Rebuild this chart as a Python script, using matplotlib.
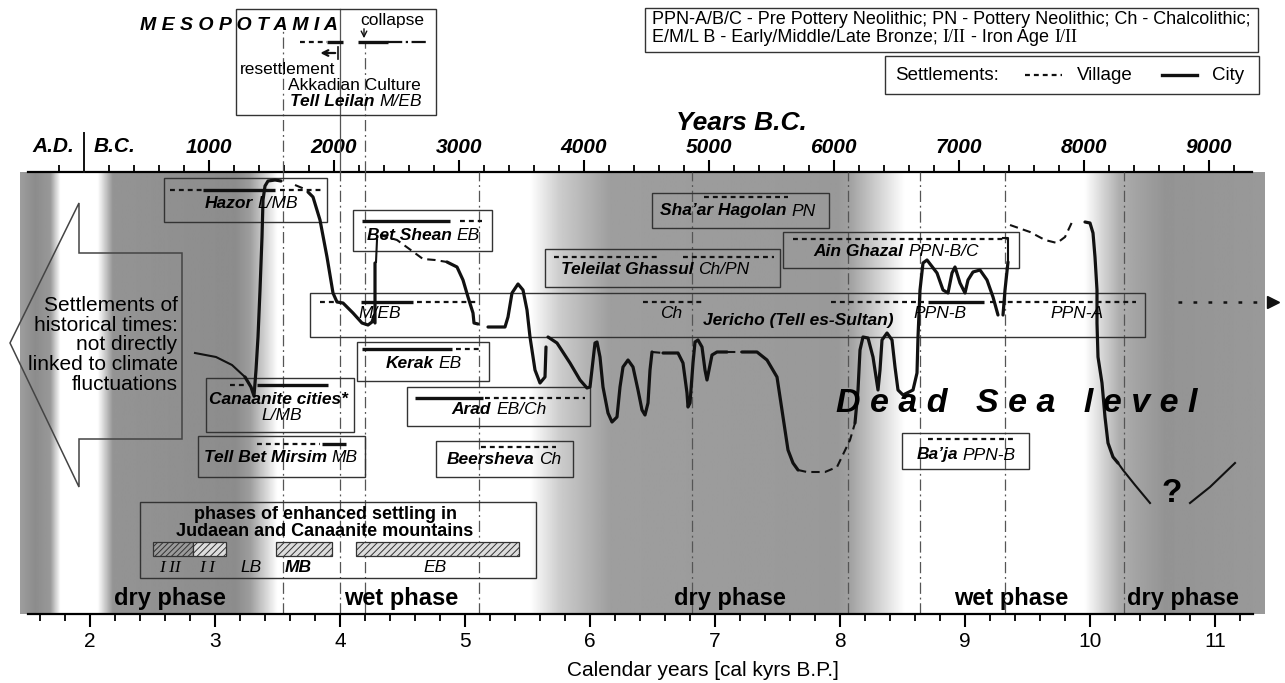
import numpy as np
import matplotlib.pyplot as plt
from matplotlib.patches import Rectangle, Polygon
from matplotlib.ticker import FixedLocator
from matplotlib import font_manager

plt.rcParams['font.family'] = ['Liberation Sans', 'DejaVu Sans']
plt.rcParams['hatch.linewidth'] = 0.7

have = {f.name for f in font_manager.fontManager.ttflist}
NARROW = 'Liberation Sans Narrow' if 'Liberation Sans Narrow' in have else 'Liberation Sans'

# ---------------- data (x in cal kyrs BP, y = relative lake level) ----------------
# brightness of the climate phase shading (1 = white / wet, grey = dry)
shade_kyr = [1.44, 1.56, 1.68, 1.76, 2.06, 2.18, 3.16, 3.28, 3.50, 5.52, 5.76, 6.16,
             7.98, 8.08, 8.52, 9.96, 10.24, 10.60, 11.40]
shade_val = [0.62, 0.55, 0.60, 1.00, 1.00, 0.58, 0.55, 0.62, 1.00, 1.00, 0.80, 0.62,
             0.60, 0.63, 1.00, 1.00, 0.68, 0.58, 0.60]

phase_names = ['dry phase', 'wet phase', 'dry phase', 'wet phase', 'dry phase']
phase_kyr = [2.64, 4.49, 7.12, 9.37, 10.74]
boundary_kyr = [3.54, 4.00, 4.20, 5.11, 6.82, 8.06, 8.64, 9.32, 10.27]

# Dead Sea level, well constrained parts (nan = break)
nan = np.nan
level_kyr = [3.24, 3.288, 3.312, 3.328, 3.344, 3.36, 3.376, 3.384, 3.40, 3.424, 3.48, 3.528, nan,
             3.744, 3.784, 3.84, 3.896, 3.944, 3.976, 4.024, 4.104, 4.176, 4.224, 4.256, 4.272, nan,
             4.28, 4.28, nan,
             4.856, 4.936, 4.984, 5.024, 5.064, 5.072, 5.104, nan,
             5.184, 5.32, 5.344, 5.376, 5.424, 5.464, 5.496, 5.52, 5.56, 5.60, 5.64, 5.648, nan,
             5.664, 5.736, 5.84, 5.92, 5.976, 6.0, 6.04, 6.056, 6.08, 6.104, 6.144, 6.176, 6.216,
             6.24, 6.264, 6.304, 6.344, 6.384, 6.416, 6.44, 6.464, 6.48, 6.496, nan,
             6.584, 6.704, 6.744, 6.776, 6.784, 6.80, 6.824, 6.84, 6.864, 6.896, 6.92, 6.936,
             6.952, 6.976, 7.016, 7.096, nan,
             7.216, 7.336, 7.416, 7.496, 7.544, 7.584, 7.624, 7.664, nan,
             8.12, 8.144, 8.16, 8.184, 8.224, 8.264, 8.296, 8.304, 8.32, 8.336, 8.376, 8.416,
             8.44, 8.464, 8.504, 8.584, 8.616, 8.624, 8.64, 8.664, 8.696, 8.776, 8.824, 8.864,
             8.896, 8.92, 8.96, 9.0, 9.024, 9.064, 9.12, 9.176, 9.224, 9.264, nan,
             9.304, 9.32, 9.344, nan,
             9.96, 10.0, 10.024, 10.04, 10.056, 10.056, 10.064, 10.096, 10.12, 10.144, 10.184, 10.224]
level_val = [270, 260, 251, 277, 310, 357, 410, 447, 461, 466, 467, 466, nan,
             455, 450, 427, 390, 354, 345, 344, 334, 324, 322, 325, 331, nan,
             324, 384, nan,
             385, 380, 367, 350, 334, 324, 323, nan,
             320, 320, 330, 354, 363, 357, 337, 310, 277, 264, 270, 300, nan,
             310, 304, 284, 267, 259, 260, 304, 305, 290, 260, 234, 225, 230,
             260, 280, 287, 280, 257, 237, 232, 244, 277, 295, nan,
             294, 294, 284, 254, 240, 244, 284, 305, 307, 300, 277, 267,
             277, 292, 295, 295, nan,
             295, 295, 287, 270, 230, 197, 184, 177, nan,
             224, 257, 297, 310, 309, 290, 264, 257, 277, 307, 314, 307,
             280, 257, 252, 257, 274, 310, 357, 384, 387, 374, 357, 354,
             374, 380, 364, 354, 367, 375, 377, 367, 350, 332, nan,
             332, 357, 385, nan,
             425, 424, 414, 390, 357, 324, 290, 264, 230, 204, 190, 184]

# uncertain parts (dashed)
guess_kyr = [3.64, 3.736, nan,
             4.32, 4.456, 4.544, 4.664, 4.76, 4.856, nan,
             6.496, 6.584, nan, 7.096, 7.216, nan,
             7.664, 7.736, 7.88, 7.976, 8.08, 8.12, nan,
             9.36, 9.52, 9.64, 9.736, 9.80, 9.864]
guess_val = [462, 457, nan,
             412, 407, 399, 388, 387, 385, nan,
             295, 294, nan, 295, 295, nan,
             177, 175, 175, 180, 207, 224, nan,
             422, 415, 407, 404, 410, 427]

# thin solid parts
thin_kyr = [2.84, 3.008, 3.136, 3.24, nan, 4.288, 4.296, nan, 9.304, 9.344, 9.344, nan,
            10.224, 10.264, 10.36, 10.48, nan, 10.8, 10.96, 11.16]
thin_val = [294, 290, 282, 270, nan, 385, 407, nan, 409, 409, 385, nan,
            184, 177, 162, 144, nan, 144, 160, 184]

# settlement occupation: village (dashed) and city (solid) spans
village_start = [2.64, 3.52, 4.96, 5.712, 6.744, 6.912, 7.624, 3.84, 4.616, 6.424, 7.928,
                 9.20, 4.928, 3.12, 5.16, 3.336, 5.128, 8.704, 3.68]
village_end = [2.904, 3.864, 5.136, 6.56, 7.472, 7.584, 9.344, 3.984, 5.096, 6.896, 8.672,
               10.368, 5.128, 3.256, 5.96, 3.84, 5.728, 9.392, 3.896]
village_row = [457, 457, 426, 390, 390, 450, 408, 345, 345, 345, 345,
               345, 298, 262, 249, 203, 200, 208, 605]
city_start = [2.904, 4.176, 4.168, 8.704, 4.176, 3.336, 4.60, 3.856, 3.896, 4.144]
city_end = [3.48, 4.88, 4.584, 9.152, 4.896, 3.904, 5.144, 4.048, 4.024, 4.384]
city_row = [457, 426, 345, 345, 298, 262, 249, 203, 605, 605]

# enhanced settling phases in the mountains
settle_start = [2.504, 2.824, 3.488, 4.128]
settle_end = [2.824, 3.088, 3.936, 5.432]
settle_names = ['I II', 'I I', 'LB', 'MB', 'EB']
settle_name_kyr = [2.64, 2.936, 3.288, 3.664, 4.76]

# site labels: bold name, italic period
site_bold = ['Hazor', 'Bet Shean', 'Teleilat Ghassul', 'Sha\u2019ar Hagolan', 'Ain Ghazal',
             'Kerak', 'Arad', 'Tell Bet Mirsim', 'Beersheva', 'Ba\u2019ja']
site_period = ['L/MB', 'EB', 'Ch/PN', 'PN', 'PPN-B/C', 'EB', 'EB/Ch', 'MB', 'Ch', 'PPN-B']
site_kyr = [3.29, 4.664, 6.52, 7.184, 8.448, 4.672, 5.272, 3.528, 5.312, 9.008]
site_lvl = [444, 412, 377, 436, 395, 283, 237, 190, 188, 192]

jericho_periods = ['M/EB', 'Ch', 'PPN-B', 'PPN-A']
jericho_period_kyr = [4.32, 6.648, 8.80, 9.896]

# label boxes
box_k0 = [2.592, 4.104, 5.64, 6.496, 7.544, 3.76, 4.136, 2.928, 4.536, 2.864, 4.768, 8.496,
          2.40, 3.168, 6.44, 8.36]
box_k1 = [3.896, 5.216, 7.52, 7.912, 9.432, 10.44, 5.192, 4.112, 6.00, 4.20, 5.864, 9.512,
          5.568, 4.768, 11.344, 11.352]
box_lo = [425, 396, 360, 419, 379, 310, 266, 215, 221, 170, 170, 178, 69, 532, 595, 553]
box_hi = [469, 437, 398, 454, 415, 354, 305, 269, 260, 211, 206, 214, 145, 638, 639, 591]

bc_major = [1000, 2000, 3000, 4000, 5000, 6000, 7000, 8000, 9000]
bp_major = [2, 3, 4, 5, 6, 7, 8, 9, 10, 11]

# ---------------- figure ----------------
fig = plt.figure(figsize=(12.85, 6.83), dpi=100)
ax = fig.add_axes([20 / 1285, 69 / 683, 1245 / 1285, 442 / 683])
ax.set_xlim(1.44, 11.40)
ax.set_ylim(33, 475)

xs = np.linspace(1.44, 11.40, 1500)
ax.imshow(np.interp(xs, shade_kyr, shade_val)[None, :], extent=[1.44, 11.40, 33, 475],
          aspect='auto', cmap='gray', vmin=0, vmax=1, interpolation='bilinear', zorder=0)

BI = dict(weight='bold', style='italic')
IT = dict(style='italic')
DD = (0, (9, 3, 1.5, 3))
EDGE = '#333333'

for k in boundary_kyr:
    ax.plot([k, k], [33, 475], color='#555555', lw=0.9, ls=DD, zorder=1)
ax.plot([3.54, 3.54], [475, 630], color='#555555', lw=0.9, ls=DD, zorder=1, clip_on=False)
ax.plot([4.00, 4.00], [475, 638], color='#555555', lw=0.9, zorder=1, clip_on=False)
ax.plot([4.20, 4.20], [475, 606], color='#555555', lw=0.9, ls=DD, zorder=1, clip_on=False)

for k0, k1, lo, hi in zip(box_k0, box_k1, box_lo, box_hi):
    ax.add_patch(Rectangle((k0, lo), k1 - k0, hi - lo, fill=False, ec=EDGE, lw=1.0,
                           zorder=2, clip_on=False))

for s, e, r in zip(village_start, village_end, village_row):
    ax.plot([s, e], [r, r], color='#111111', lw=1.6, ls=(0, (2.2, 1.8)), zorder=3, clip_on=False)
for s, e, r in zip(city_start, city_end, city_row):
    ax.plot([s, e], [r, r], color='#111111', lw=2.4, solid_capstyle='butt', zorder=3, clip_on=False)
ax.plot([4.384, 4.696], [605, 605], color='#111111', lw=1.6, ls='-.', zorder=3, clip_on=False)

# Jericho continues further back
ax.plot([10.704, 11.40], [345, 345], color='#111111', lw=1.8, ls=(0, (1.5, 4.5)), zorder=3,
        clip_on=False)
ax.plot([11.46], [345], marker='>', color='#111111', ms=9, zorder=3, clip_on=False)

# lake level curve
ax.plot(level_kyr, level_val, color='#111111', lw=2.3, solid_capstyle='round',
        solid_joinstyle='round', zorder=4)
ax.plot(guess_kyr, guess_val, color='#111111', lw=1.5, ls=(0, (4, 2.5)), zorder=4)
ax.plot(thin_kyr, thin_val, color='#111111', lw=1.5, zorder=4)

# hatched settling phases
for i, (s, e) in enumerate(zip(settle_start, settle_end)):
    ax.add_patch(Rectangle((s, 91), e - s, 14, fc='#9a9a9a' if i == 0 else '#dddddd',
                           ec=EDGE, lw=0.9, hatch='//////' if i == 0 else '/////', zorder=3))
for name, k in zip(settle_names, settle_name_kyr):
    kw = dict(family=['Liberation Serif'], style='italic') if 'I' in name else (BI if name == 'MB' else IT)
    ax.text(k, 79, name, fontsize=12.5, ha='center', va='center', zorder=5, **kw)
ax.text(3.88, 124, 'phases of enhanced settling in\nJudaean and Canaanite mountains',
        fontsize=13, weight='bold', ha='center', va='center', linespacing=1.0, zorder=5)

rend = fig.canvas.get_renderer()


def mixed_label(x, y, parts, size=12.5, ha='center'):
    items = [ax.text(x, y, s, fontsize=size, va='center', ha='left', zorder=5, **st)
             for s, st in parts]
    widths = [t.get_window_extent(rend).width for t in items]
    gap = 0.28 * size * fig.dpi / 72
    total = sum(widths) + gap * (len(items) - 1)
    px, py = ax.transData.transform((x, y))
    if ha == 'center':
        px -= total / 2
    inv = ax.transData.inverted()
    for t, w in zip(items, widths):
        t.set_position(inv.transform((px, py)))
        px += w + gap


for b, p, k, lv in zip(site_bold, site_period, site_kyr, site_lvl):
    mixed_label(k, lv, [(b, BI), (p, IT)])
ax.text(3.504, 248, 'Canaanite cities*', fontsize=12.5, ha='center', va='center', zorder=5, **BI)
ax.text(3.536, 231, 'L/MB', fontsize=12.5, ha='center', va='center', zorder=5, **IT)
ax.text(7.664, 327, 'Jericho (Tell es-Sultan)', fontsize=12.5, ha='center', va='center',
        zorder=5, **BI)
for p, k in zip(jericho_periods, jericho_period_kyr):
    ax.text(k, 333, p, fontsize=12.5, ha='center', va='center', zorder=5, **IT)

# phases
for n, k in zip(phase_names, phase_kyr):
    ax.text(k, 49, n, fontsize=17, weight='bold', ha='center', va='center', zorder=5)

ax.text(9.412, 244, 'D e a d   S e a   l e v e l', fontsize=24.5, ha='center', va='center',
        zorder=5, **BI)
ax.text(10.656, 154, '?', fontsize=24, weight='bold', ha='center', va='center', zorder=5)

# left arrow: historical settlements
ax.add_patch(Polygon([(1.36, 304), (1.912, 444), (1.912, 394), (2.736, 394), (2.736, 208),
                      (1.912, 208), (1.912, 160)], closed=True, fill=False, ec='#444444',
                     lw=1.1, zorder=3, clip_on=False))
ax.text(2.70, 302, 'Settlements of\nhistorical times:\nnot directly\nlinked to climate\nfluctuations',
        fontsize=15, ha='right', va='center', linespacing=1.05, zorder=5)

# Mesopotamia panel
ax.text(2.40, 622, 'M E S O P O T A M I A', fontsize=14, ha='left', va='center', **BI)
ax.text(4.16, 627, 'collapse', fontsize=12.5, ha='left', va='center')
ax.annotate('', xy=(4.192, 606), xytext=(4.192, 621),
            arrowprops=dict(arrowstyle='->', lw=1.0, color='#111111'), annotation_clip=False)
ax.annotate('', xy=(3.82, 594), xytext=(3.984, 594),
            arrowprops=dict(arrowstyle='->', lw=1.6, color='#111111'), annotation_clip=False)
ax.plot([3.984, 3.984], [588, 600], color='#111111', lw=1.2, clip_on=False)
ax.text(3.20, 577, 'resettlement', fontsize=12.5, ha='left', va='center')
ax.text(3.584, 562, 'Akkadian Culture', fontsize=12.5, ha='left', va='center')
mixed_label(3.60, 545, [('Tell Leilan', BI), ('M/EB', IT)], ha='left')

# abbreviation legend
LEG = dict(family=[NARROW, 'Liberation Sans'])
lsz = 14.5 if NARROW != 'Liberation Sans' else 13
ax.text(6.496, 627, 'PPN-A/B/C - Pre Pottery Neolithic; PN - Pottery Neolithic; Ch - Chalcolithic;',
        fontsize=lsz, ha='left', va='center', **LEG)
mixed_label(6.496, 610, [('E/M/L B - Early/Middle/Late Bronze;', LEG),
                         ('I/II', dict(family=['Liberation Serif'])),
                         ('- Iron Age', LEG), ('I/II', dict(family=['Liberation Serif']))],
            size=lsz, ha='left')
ax.text(8.44, 572, 'Settlements:', fontsize=lsz + 0.5, ha='left', va='center', **LEG)
ax.plot([9.48, 9.776], [572, 572], color='#111111', lw=1.6, ls=(0, (2.2, 1.8)), clip_on=False)
ax.text(9.896, 572, 'Village', fontsize=lsz + 0.5, ha='left', va='center', **LEG)
ax.plot([10.576, 10.856], [572, 572], color='#111111', lw=2.4, clip_on=False)
ax.text(10.976, 572, 'City', fontsize=lsz + 0.5, ha='left', va='center', **LEG)

# ---------------- axes ----------------
for side in ['left', 'right', 'top']:
    ax.spines[side].set_visible(False)
ax.spines['bottom'].set_bounds(1.5, 11.3)
ax.spines['bottom'].set_linewidth(1.6)
ax.set_yticks([])
ax.set_xticks(bp_major)
ax.xaxis.set_minor_locator(FixedLocator(np.arange(1.6, 11.25, 0.2)))
ax.tick_params(axis='x', which='major', length=9, width=1.5, labelsize=15, pad=4)
ax.tick_params(axis='x', which='minor', length=5, width=1.3)
ax.text(6.904, -23, 'Calendar years [cal kyrs B.P.]', fontsize=15, ha='center', va='center')

sec = ax.secondary_xaxis('top', functions=(lambda k: (k - 1.95) * 1000, lambda bc: bc / 1000 + 1.95))
sec.spines['top'].set_bounds(-450, 9350)
sec.spines['top'].set_linewidth(1.6)
sec.set_xticks(bc_major)
sec.xaxis.set_minor_locator(FixedLocator([v for v in range(-200, 9300, 200) if v % 1000]))
sec.tick_params(axis='x', which='major', length=9, width=1.5, labelsize=15, pad=2)
sec.tick_params(axis='x', which='minor', length=5, width=1.3)
for lab in sec.get_xticklabels():
    lab.set_fontweight('bold')
    lab.set_fontstyle('italic')
ax.plot([1.95, 1.95], [475, 514], color='#111111', lw=1.4, clip_on=False)
ax.text(1.704, 500, 'A.D.', fontsize=15, ha='center', va='center', **BI)
ax.text(2.192, 500, 'B.C.', fontsize=15, ha='center', va='center', **BI)
ax.text(7.208, 524, 'Years B.C.', fontsize=19, ha='center', va='center', **BI)

fig.savefig('out.png', dpi=100)
